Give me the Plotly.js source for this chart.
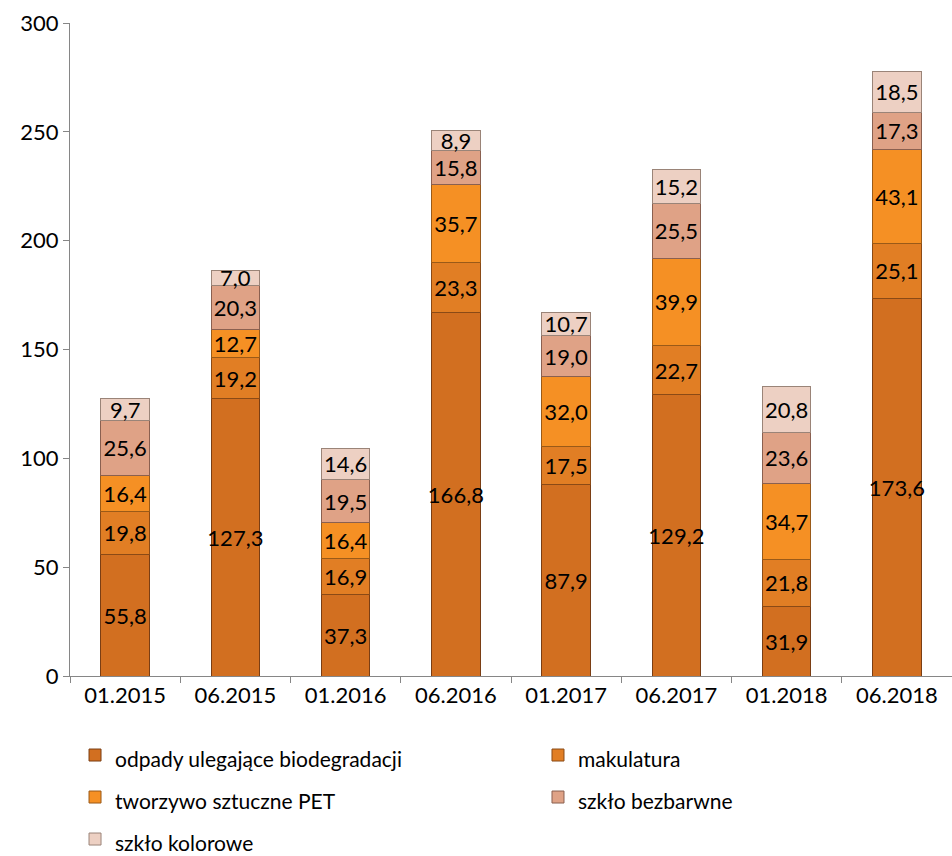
<!DOCTYPE html>
<html>
<head>
<meta charset="utf-8">
<script src="https://cdn.plot.ly/plotly-3.0.1.min.js"></script>
<style>html,body{margin:0;padding:0;background:#fff}#chart{width:952px;height:856px}</style>
</head>
<body>
<div id="chart"></div>
<script>
const categories = ["01.2015","06.2015","01.2016","06.2016","01.2017","06.2017","01.2018","06.2018"];
const seriesNames = ["odpady ulegające biodegradacji","makulatura","tworzywo sztuczne PET","szkło bezbarwne","szkło kolorowe"];
const biodegradacji = [55.8,127.3,37.3,166.8,87.9,129.2,31.9,173.6];
const makulatura = [19.8,19.2,16.9,23.3,17.5,22.7,21.8,25.1];
const pet = [16.4,12.7,16.4,35.7,32.0,39.9,34.7,43.1];
const bezbarwne = [25.6,20.3,19.5,15.8,19.0,25.5,23.6,17.3];
const kolorowe = [9.7,7.0,14.6,8.9,10.7,15.2,20.8,18.5];
const seriesValues = [biodegradacji, makulatura, pet, bezbarwne, kolorowe];
const colors = ["#D26F20","#E17E24","#F59024","#DFA286","#EDD0C3"];
const lineColors = ["#7a3e14","#8a4a16","#9a5a18","#8a6050","#9a8478"];
const legendIds = ["legend","legend2","legend","legend2","legend"];

const traces = seriesValues.map((vals, i) => ({
  type: "bar",
  name: '<span style="font-size:21px">' + seriesNames[i] + '</span>',
  legend: legendIds[i],
  x: categories,
  y: vals,
  texttemplate: "%{y:.1f}",
  textposition: "inside",
  insidetextanchor: "middle",
  textangle: 0,
  constraintext: "none",
  textfont: {family: "Lato, sans-serif", size: 22, color: "#000"},
  marker: {color: colors[i], line: {color: lineColors[i], width: 1}},
  hoverinfo: "x+y+name"
}));

const legendCommon = {
  orientation: "v",
  traceorder: "normal",
  yanchor: "top",
  xanchor: "left",
  font: {size: 30, color: "#000", family: "Lato, sans-serif"},
  itemwidth: 30,
  bgcolor: "rgba(0,0,0,0)"
};

const layout = {
  width: 952, height: 856,
  margin: {l: 70, r: 0, t: 23, b: 180, autoexpand: false},
  barmode: "stack",
  bargap: 0.56,
  separators: ", ",
  paper_bgcolor: "#fff",
  plot_bgcolor: "#fff",
  font: {family: "Lato, sans-serif", size: 22, color: "#000"},
  xaxis: {
    type: "category",
    showline: true, linecolor: "#868686", linewidth: 1,
    ticks: "outside", tickson: "boundaries", ticklen: 6, tickcolor: "#868686",
    tickfont: {size: 22, color: "#000"},
    showgrid: false, zeroline: false
  },
  yaxis: {
    range: [0, 300], dtick: 50,
    showline: true, linecolor: "#868686", linewidth: 1,
    ticks: "outside", ticklen: 6, tickcolor: "#868686",
    tickfont: {size: 22, color: "#000"},
    showgrid: false, zeroline: false
  },
  showlegend: true,
  legend: Object.assign({}, legendCommon, {x: 0.0057, y: -0.0812}),
  legend2: Object.assign({}, legendCommon, {x: 0.5306, y: -0.0812})
};

Plotly.newPlot("chart", traces, layout, {displayModeBar: false, staticPlot: true});
</script>
</body>
</html>
